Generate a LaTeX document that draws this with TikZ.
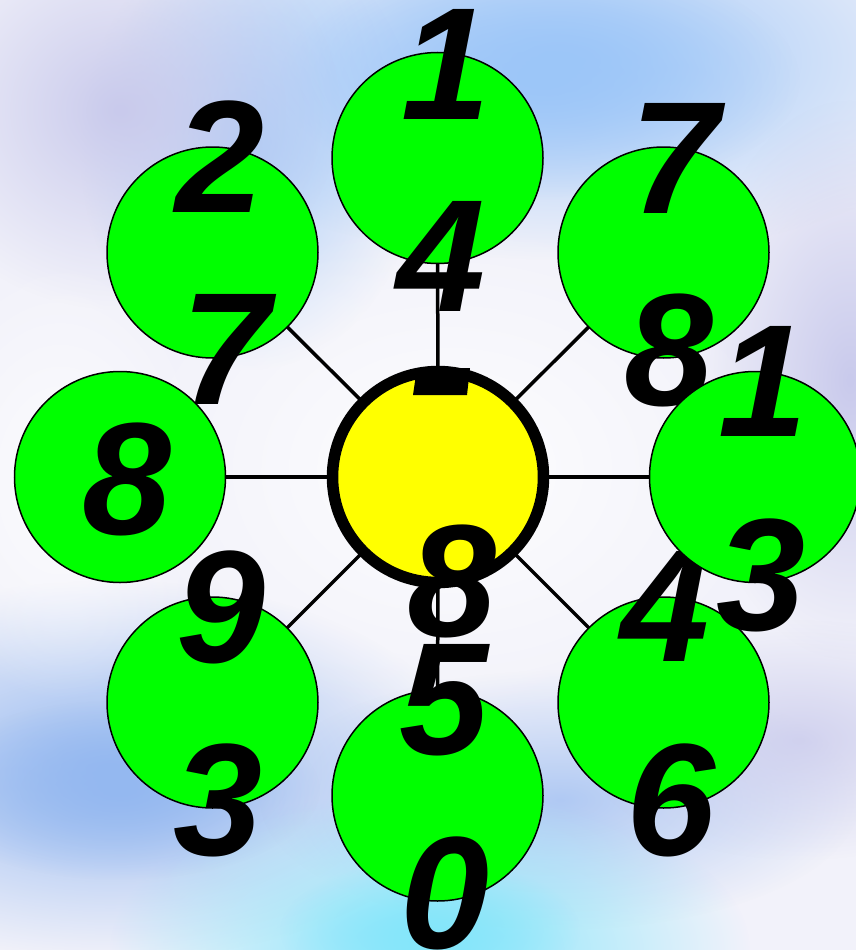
\documentclass[tikz,border=0pt]{standalone}
\usepackage{fontspec}
\setmainfont{Liberation Sans}
\usetikzlibrary{fadings}
\pgfdeclarelayer{bgimg}
\pgfdeclarelayer{back}
\pgfsetlayers{bgimg,back,main}
\definecolor{bgbase}{HTML}{F2F2FA}
\definecolor{skyblue}{HTML}{9CC6F8}
\definecolor{lav}{HTML}{C9CAEC}
\definecolor{deepblue}{HTML}{94B8F0}
\definecolor{cyanish}{HTML}{84E6FA}
\definecolor{ngreen}{HTML}{00FF00}
\definecolor{nyellow}{HTML}{FFFF00}
\tikzfading[name=softblob, inner color=transparent!0, outer color=transparent!100]
\tikzset{
  gc/.style={circle, draw=black, line width=1.5pt, fill=ngreen, minimum size=211pt, inner sep=0pt},
  yc/.style={circle, draw=black, line width=11.5pt, fill=nyellow, minimum size=211pt, inner sep=0pt},
  dig/.style={font=\fontsize{160}{160}\selectfont\bfseries\itshape, inner sep=0pt, text=black},
  conn/.style={draw=black, line width=3.5pt},
  blob/.style={path fading=softblob}
}
\begin{document}
\begin{tikzpicture}[x=1pt, y=-1pt]
\useasboundingbox (0,0) rectangle (856,950);
\begin{pgfonlayer}{bgimg}
  \fill[bgbase] (0,0) rectangle (856,950);
  \fill[skyblue, blob] (560,60) ellipse (440 and 200);
  \fill[skyblue, blob] (540,80) ellipse (260 and 120);
  \fill[skyblue, blob, opacity=0.8] (250,150) ellipse (170 and 220);
  \fill[lav, blob] (120,110) ellipse (220 and 200);
  \fill[deepblue, blob] (110,770) ellipse (360 and 190);
  \fill[deepblue, blob] (120,790) ellipse (200 and 90);
  \fill[deepblue, blob, opacity=0.7] (560,800) ellipse (300 and 130);
  \fill[cyanish, blob] (430,950) ellipse (320 and 160);
  \fill[cyanish, blob] (430,930) ellipse (150 and 70);
  \fill[lav, blob] (850,380) ellipse (160 and 280);
  \fill[lav, blob, opacity=0.8] (800,740) ellipse (220 and 120);
  \fill[white, blob, opacity=0.9] (450,470) ellipse (330 and 250);
  \fill[white, blob, opacity=0.8] (60,480) ellipse (150 and 220);
\end{pgfonlayer}

% centre
\node[yc] (c) at (438,477) {};
\fill[black] (413,395) -- (417,368) -- (470,368) -- (467,395) -- cycle;
\node[dig] (c2) at (452,581) {8};

% top
\node[gc] (t) at (437.5,158) {};
\node[dig] (t1) at (446,64) {1};
\node[dig] (t2) at (441,256) {4};

% top-left
\node[gc] (tl) at (212.5,252.5) {};
\node[dig] (tl1) at (220,157) {2};
\node[dig] (tl2) at (226,349) {7};

% top-right
\node[gc] (tr) at (663.5,252.5) {};
\node[dig] (tr1) at (675,158) {7};
\node[dig] (tr2) at (669,350) {8};

% bottom-right
\node[gc] (br) at (663.5,702.5) {};
\node[dig] (br1) at (665,606) {4};
\node[dig] (br2) at (671,800) {6};

% right
\node[gc] (r) at (755,477) {};
\node[dig] (r1) at (763,381) {1};
\node[dig] (r2) at (761,575) {3};

% left
\node[gc] (l) at (120,477) {};
\node[dig] (l1) at (127,479) {8};

% bottom-left
\node[gc] (bl) at (212.5,702.5) {};
\node[dig] (bl1) at (221,607) {9};
\node[dig] (bl2) at (218,800) {3};

% bottom
\node[gc] (b) at (437.5,795.5) {};
\node[dig] (b1) at (444,700) {5};
\node[dig] (b2) at (445,893) {0};

\begin{pgfonlayer}{back}
  \foreach \n in {t,tl,tr,r,br,b,bl,l} { \draw[conn] (c.center) -- (\n.center); }
\end{pgfonlayer}
\end{tikzpicture}
\end{document}
